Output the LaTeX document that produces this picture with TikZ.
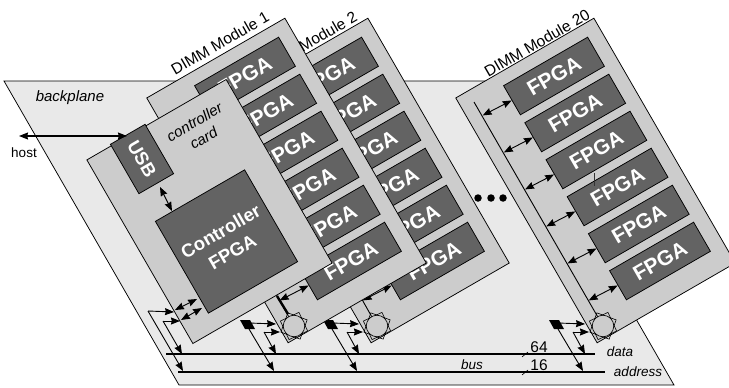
\documentclass[tikz,border=0pt]{standalone}
\usepackage{fontspec}
\setmainfont{Liberation Sans}
\usetikzlibrary{arrows.meta,calc}
\definecolor{planegray}{HTML}{E9E9E9}
\definecolor{cardgray}{HTML}{CCCCCC}
\definecolor{chipgray}{HTML}{636363}
\newcommand{\fs}[1]{\fontsize{#1}{#1}\selectfont}
\tikzset{
  x=1pt,y=-1pt,
  outline/.style={draw=black,line width=0.75pt},
  board/.style={outline,fill=cardgray,rotate=30,inner sep=0pt,minimum width=159.5pt,minimum height=282.7pt},
  chip/.style={outline,fill=chipgray,text=white,font=\fs{21}\bfseries,inner sep=0pt,rotate=30,minimum width=97pt,minimum height=33.6pt},
  label/.style={inner sep=0pt,text=black},
  onehead/.style={line width=0.9pt,-{Stealth[length=9pt,width=7pt,inset=0.8pt]}},
  twohead/.style={line width=0.9pt,{Stealth[length=9pt,width=7pt,inset=0.8pt]}-{Stealth[length=9pt,width=7pt,inset=0.8pt]}},
  wire/.style={line width=0.9pt},
  busline/.style={line width=1.4pt},
}
% #1 id, #2 offset from module 20, #3 label text, #4 label x, #5 y where the inner bus line starts
\newcommand{\dimm}[5]{%
  \node[label,rotate=30,font=\fs{15.6}] (lab#1) at (#4,43) {#3};
  \node[board] (mod#1) at (595.5-#2,180.5) {};
  \foreach \k in {0,...,5}{
    \node[chip] (f#1\k) at (554-#2+21.2*\k,76+37*\k) {FPGA};
    \path (f#1\k.west) ++(-29,15) coordinate (b#1\k);
    \draw[twohead] (b#1\k) -- (f#1\k.west);
  }
  \coordinate (bt#1) at ({474-#2+(#5-102)*0.59},#5);
  \coordinate (st#1) at (603-#2,326);
  \draw[wire] (bt#1) -- (st#1);
  \node[draw,line width=0.6pt,fill=cardgray,rotate=25,minimum size=20.5pt,inner sep=0pt] (sa#1) at (st#1) {};
  \node[draw,line width=0.6pt,rotate=70,minimum size=20.5pt,inner sep=0pt] (sb#1) at (st#1) {};
  \node[draw,line width=0.6pt,fill=cardgray,circle,minimum size=21.5pt,inner sep=0pt] (sc#1) at (st#1) {};
}
% #1 id, #2 offset
\newcommand{\wiring}[2]{%
  \fill (549-#2,320) -- (559-#2,320) -- (564-#2,329) -- (554-#2,329) -- cycle;
  \coordinate (pa#1) at (558-#2,323);
  \coordinate (pb#1) at (558-#2,329);
  \coordinate (ea#1) at (585-#2,324);
  \coordinate (ja#1) at (573-#2,332);
  \coordinate (eb#1) at (589-#2,332);
  \coordinate (ec#1) at (585-#2,354);
  \coordinate (ed#1) at (583-#2,371);
  \draw[onehead] (pa#1) -- (ea#1);
  \draw[onehead] (ja#1) -- (eb#1);
  \draw[onehead] (ja#1) -- (ec#1);
  \draw[onehead] (pb#1) -- (ed#1);
}
\begin{document}
\begin{tikzpicture}
\useasboundingbox (0,0) rectangle (729,388);
% backplane
\draw[outline,fill=planegray] (4,81) -- (499,81) -- (674,385) -- (179,385) -- cycle;
\node[label,font=\fs{15}\itshape] (bp) at (70,98) {backplane};
% buses
\coordinate (dl) at (166,354); \coordinate (dr) at (595,354);
\coordinate (al) at (178,372); \coordinate (ar) at (605,372);
\draw[busline] (dl) -- (dr);
\draw[busline] (al) -- (ar);
\node[label,font=\fs{13.5}\itshape] (data) at (620,352) {data};
\node[label,font=\fs{13.5}\itshape] (addr) at (638,372) {address};
\node[label,font=\fs{13.5}\itshape] (bus) at (472,365) {bus};
\node[label,font=\fs{15.5}] (n64) at (539,347) {64};
\node[label,font=\fs{15.5}] (n16) at (539,365) {16};
\coordinate (sa) at (522,357); \coordinate (sb) at (528,352);
\coordinate (sc) at (522,375); \coordinate (sd) at (528,370);
\draw[wire,line width=0.6pt] (sa) -- (sb);
\draw[wire,line width=0.6pt] (sc) -- (sd);
% dots
\foreach \i/\x in {1/478,2/491,3/503}{\node[circle,fill=black,minimum size=7.5pt,inner sep=0pt] (dot\i) at (\x,198) {};}
% modules
\dimm{t}{0}{DIMM Module 20}{537}{102}
\coordinate (ta) at (594,173); \coordinate (tb) at (594,186);
\draw[line width=1pt,draw=black!80] (ta) -- (tb);
\wiring{t}{0}
\dimm{b}{226}{DIMM Module 2}{308}{200}
\wiring{b}{226}
\dimm{a}{309}{DIMM Module 1}{220}{200}
\coordinate (ka) at (277,296); \coordinate (kb) at (288,314);
\draw[line width=2.4pt] (ka) -- (kb);
\wiring{a}{309}
% controller card
\node[outline,fill=cardgray,rotate=30,inner sep=0pt,minimum width=160.8pt,minimum height=212pt] (card) at (209.5,211.5) {};
\node[label,rotate=30,font=\fs{15}\itshape,align=center] (cardtxt) at (199,130) {controller\\[3.5pt]card};
\node[outline,fill=chipgray,text=white,font=\fs{18.5}\bfseries,rotate=-60,inner sep=0pt,minimum width=57pt,minimum height=40pt] (usb) at (142,159) {USB};
\node[outline,fill=chipgray,text=white,font=\fs{18.5}\bfseries,rotate=30,inner sep=0pt,minimum width=103pt,minimum height=106pt,align=center] (ctrl) at (226.5,241.5) {Controller\\[5pt]FPGA};
\coordinate (u1) at (160,187); \coordinate (u2) at (172,211);
\draw[twohead] (u1) -- (u2);
% host
\coordinate (h) at (19,136); \coordinate (hu) at (127,136);
\draw[twohead,line width=1.1pt] (h) -- (hu);
\node[label,font=\fs{13.5}] (host) at (24,153) {host};
% card to buses
\coordinate (c1) at (175,310); \coordinate (c2) at (197,299);
\coordinate (c3) at (181,320); \coordinate (c4) at (202,308);
\draw[twohead] (c1) -- (c2);
\draw[twohead] (c3) -- (c4);
\coordinate (j1) at (148,311); \coordinate (j2) at (174,312); \coordinate (j3) at (183,371);
\coordinate (j4) at (163,321); \coordinate (j5) at (180,321); \coordinate (j6) at (182,354);
\draw[onehead] (j1) -- (j2);
\draw[onehead] (j1) -- (j3);
\draw[onehead] (j4) -- (j5);
\draw[onehead] (j4) -- (j6);
\end{tikzpicture}
\end{document}
